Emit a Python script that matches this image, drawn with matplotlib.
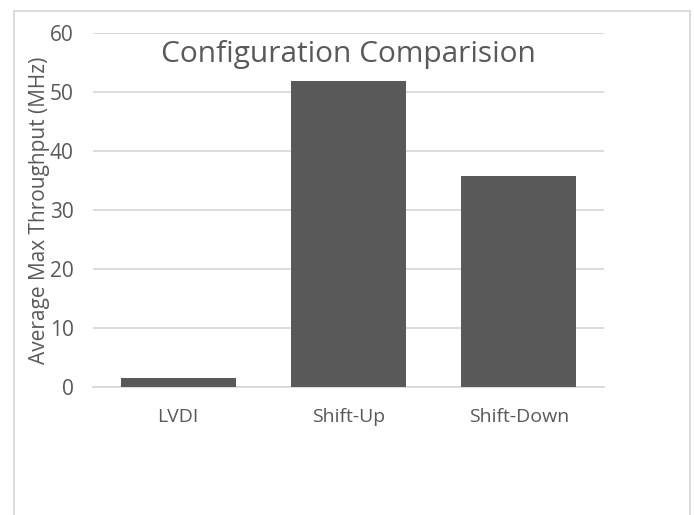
import matplotlib
matplotlib.use("Agg")
import matplotlib.pyplot as plt
from matplotlib.lines import Line2D

categories = ["LVDI", "Shift-Up", "Shift-Down"]
values = [1.6, 51.9, 35.7]
yticks = [0, 10, 20, 30, 40, 50, 60]

plt.rcParams['font.family'] = ['Open Sans', 'DejaVu Sans']
W, H = 694, 515
fig = plt.figure(figsize=(W/100, H/100), dpi=100)
ax = fig.add_axes([93/W, 1-387/H, (604-93)/W, (387-33)/H])

text_c = '#595959'
grid_c = '#d9d9d9'
ax.bar(range(len(categories)), values, width=0.675, color='#595959', zorder=3)
ax.set_xlim(-0.5, len(categories)-0.5)
ax.set_ylim(0, 60)
ax.set_yticks(yticks)
ax.set_xticks(range(len(categories)))
ax.set_xticklabels(categories)
ax.yaxis.grid(True, color=grid_c, linewidth=1.3, zorder=0)
for s in ['top', 'right', 'left']:
    ax.spines[s].set_visible(False)
ax.spines['bottom'].set_color(grid_c)
ax.spines['bottom'].set_linewidth(1.3)
ax.tick_params(axis='x', length=0, colors=text_c, labelsize=14, pad=15)
ax.tick_params(axis='y', length=0, colors=text_c, labelsize=15, pad=14)
ax.set_ylabel("Average Max Throughput (MHz)", color=text_c, fontsize=15, labelpad=0)
ax.text(0.5, 0.94, "Configuration Comparision", transform=ax.transAxes,
        ha='center', va='center', fontsize=21.5, color=text_c)

for (x0, y0, x1, y1) in [(14, 11, 14, 515), (14, 11, 690, 11), (690, 11, 690, 515)]:
    fig.add_artist(Line2D([x0/W, x1/W], [1-y0/H, 1-y1/H], color=grid_c, linewidth=1.3,
                          transform=fig.transFigure))

fig.savefig("out.png", dpi=100)
